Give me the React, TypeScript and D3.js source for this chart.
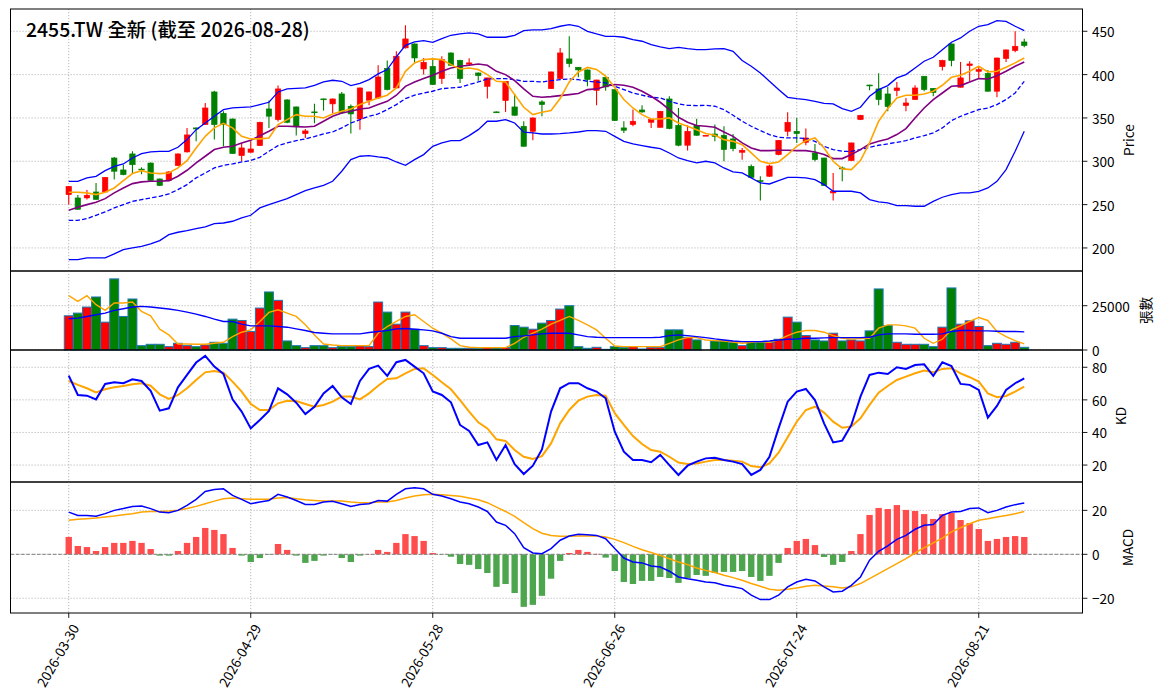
import React from "react";
import * as d3 from "d3";

// ---------- data ----------
const title = "2455.TW 全新 (截至 2026-08-28)";
const tickIndex = [0, 20, 40, 60, 80, 100];
const tickLabels = ["2026-03-30", "2026-04-29", "2026-05-28", "2026-06-26", "2026-07-24", "2026-08-21"];

const opens = [261.5,257.7,257.7,264.6,264.6,303.8,290,308.5,291,298,279.6,277.7,295,310.8,338.5,342.3,380,355.4,348.8,306.5,
310.4,318,360.4,348,370.8,362.7,331.9,357,372,366.2,377.7,363.5,348.8,370.4,373.1,407.3,384.6,430.8,435.4,406.5,
409.6,395.4,425,416.5,412,401.9,386.5,357,370,362.7,340.4,334.6,368.5,383.8,395.4,418.1,408.5,405.4,381.9,396.9,
382.7,338.5,342.3,359.2,345,339.2,371.9,341.5,318.5,341.5,330,331.5,330,325.8,310.4,294.2,277.7,282.7,307.7,334.6,
334.6,321.9,309.6,303.8,263.5,292.3,300.8,348.1,388,383.5,377.7,381.5,364.2,371.2,398.1,384.2,409.2,435.4,385.4,410.4,
403.8,401.5,380.8,418.5,427.7,437.7];
const highs = [271.5,261,267,275,282,305,296,311.5,293,298.5,280,288.5,309,338.5,339,367.3,381.5,357.7,349.3,321,
323,345.5,370,387.3,371.5,363.2,337.3,366.5,372.3,372.3,380,365.4,385,380.5,410.8,416.2,427,457,436,419.2,
417.3,421.2,425.5,417,419,402.3,396.5,357.3,392.5,378,346.2,350.5,370.4,403.5,430.8,444.2,408.8,406,394,397.2,
383,346.2,359.6,364.6,348.5,358,375,361.5,341.5,349.2,330,342.3,340.4,331.5,315.4,296.2,282.7,296,324.5,356.5,
350,337.7,320,304.2,286.5,294,321.5,353.5,388.3,401.5,385.8,391.5,373.1,387.7,398.5,384.5,417,436,414.6,415.4,
409.6,405.4,419.5,429,450,441.5];
const lows = [250,244,256,255.5,264,279,284,285.5,285,277,271.5,277,294.5,310,323,342,325,317.3,308.5,300,
310,317.5,338.5,346,344,329.6,327,344,358.5,355.8,354.6,332,336.5,364.6,372,382,384,430,413.5,400,
388,389.2,410,390.4,411,393,372.3,356,356.9,352.5,317,324.2,352,383.5,395,408.5,397,386.5,364.6,381.5,
346.5,332.7,340.4,356,338.5,339,337,317.3,312.3,329.5,330,323,300,311.5,301.9,281,254.6,282,307,328.8,
321.2,318.5,300,271.5,254.6,276.9,300.5,347.5,382,364.6,357.7,375,357.7,371,380.8,375,404.6,409.6,385,392.3,
395.4,380.5,373.8,414.6,425.8,431.5];
const closes = [271,244.5,260.8,256,281.5,288.5,284.6,296,290,277.7,272,287.7,308.5,330.4,337.3,361.5,342.3,342.3,308.8,315.4,
314.2,345,352,383.5,345,340.4,335,356,371.5,371.9,355.8,354.6,384.6,380,397.3,382.7,421.2,441.2,419.2,414.2,
388.5,417.3,410.8,395.4,413.5,398.8,396.2,356.5,392.3,353.1,317.3,350,365.4,403.1,425,412.7,405.4,394.2,393.8,385.8,
346.9,335.8,346.2,356.9,348.1,357.7,337.7,318.5,334.6,330,330,328.8,313.5,314.6,312.7,281.5,276.5,294.6,324.2,345,
331.9,326.9,301.9,271.9,265.4,291.2,321.2,353.1,387.5,371.2,363.1,384.6,367.3,384.6,382.7,379.2,416.5,416.2,396.2,412.3,
405.8,380.8,419.2,428.5,432.7,433.5];
const ma5 = [264.2,264.2,263.5,261.5,264.2,269.2,277.7,285.8,289.2,286.5,285.8,286.5,292.3,300.8,315.4,328.8,338.5,343.8,338.5,328.8,
325.8,325.8,326.9,342.3,348.1,353.8,351.9,351.9,350,354.6,357.7,360.4,365.4,369.2,373.1,376.2,384.6,403.8,413.5,417.3,
418.1,417.3,411.5,406.5,407.7,405.8,400,392.3,391.5,376.9,362.3,353.8,356.5,358.5,372.5,391.5,403,408.3,406,398.2,
385,371.2,361.5,353.8,348.8,348.8,350,344.2,340.4,336.5,332,330,325,323,319.2,309.6,300,297.3,299.2,307.7,
317.3,323.8,326.9,315.4,300,291.2,290.4,300.8,321.2,346.2,361,373.1,376.2,376.2,377.7,380.8,387.7,396.9,399.2,403.8,
409.6,403.1,403.8,408.5,413.5,419.2];
const ma10 = [243.5,246.9,250,252.7,256.9,263.5,269.2,274.2,276.2,276.9,276.9,277.7,282.7,289.6,298.1,305.8,313.5,316.2,317.3,321.2,
324.2,329.5,334.6,340.4,340.4,340,339.6,340.4,346.2,351.9,355.8,357.7,360.4,361.5,365.4,369.2,376.2,386.5,391.5,395.4,
399.2,403.8,407.7,409.6,410.8,412.3,410.8,403.8,400,393.1,383.5,375,373.8,374.6,375.8,376.9,378.1,382.7,383.5,386.5,
388.5,387.7,385.4,380.8,375,368.1,359.6,350.8,345,341.2,340.4,339.2,333.8,328.8,321.2,315.4,312.3,312.3,312.7,312.7,
312.3,312.3,310.8,307.7,303.1,303.1,307.7,313.5,320,323,325.8,330.8,337.7,350,361.5,371.2,378.8,386.5,387.3,391.5,
395.4,395,398.8,403.8,409.6,414.6];
const bbUpper = [276.9,276.9,280.8,282.7,289.2,294.2,296.9,303.8,308.8,310.8,311.5,311.5,316.2,325,336.5,344.2,351.9,359.6,361.5,362.3,
362.7,365.4,368.1,380,383.5,384.2,384.6,387.7,391.5,393.5,392.3,387.3,390,394.2,400.8,405.8,420.4,433.8,437.7,439.2,
437.3,441.5,445.4,446.9,448.1,446.9,443.1,443.1,443.1,445.4,450.8,451.5,451.5,453.1,455.8,457.7,455.8,450,446.9,444.2,
444.2,443.1,440.4,438.5,434.6,431.9,430,431.5,430,428.8,428.8,429.6,430,426.9,416.2,409.6,401.9,392.3,382.7,373.8,
372.3,371.2,369.2,366.9,366.2,360.8,357.7,362.3,375,382.7,387.3,396.2,400,407.7,415.4,420,428.8,437.3,442.3,450,
455.8,457.7,462.3,461.5,455.8,450.8];
const bbMid = [231.9,231.9,233.8,237.7,241.5,246.2,250,253.8,255.8,257.7,259.6,262.3,267.3,273.1,280.8,286.5,292.3,295.4,296.9,299.2,
300.8,304.6,311.5,318.1,321.2,323.8,325.8,328.5,331.5,333.8,338.5,344.2,348.1,351.9,354.6,359.6,365.4,372.3,376.2,378.8,
380.8,383.8,384.6,385.4,388.5,391.5,395,395.4,395.4,394.2,392.3,392.3,391.5,393.1,394.2,395,394.2,392.3,391.5,390.4,
386.5,382.7,378.8,376.2,373.8,373.1,369.2,366.2,364.6,364.2,364.6,363.5,359.6,353.1,346.2,340.4,335.4,330.8,327.7,326.9,
326.9,326.2,323,317.3,313.5,311.5,311.5,313.5,316.2,318.5,320,321.9,323.8,326.9,329.6,332.7,338.5,346.9,351.9,355.8,
359.6,361.5,365.4,371.2,378.8,392.3];
const bbLower = [186.5,186.5,188.5,188.5,188.5,193.1,198.1,200,201.9,204.6,208.5,215.4,218.1,220,222.3,224.2,228.1,228.8,230.8,234.6,
237.7,246.2,250,253.5,256.9,261.5,266.2,269.2,272.3,276.9,288.5,301.9,305.8,306.5,305,303.8,299.2,295.4,301.9,307.7,
317.3,321.2,323.8,323.8,329.6,336.5,346.2,346.2,348.1,344.2,333.5,332.7,331.5,331.5,331.9,332.7,333.8,335.4,335.4,334.6,
328.8,323,320,318.1,316.2,314.6,309.6,303.8,300.8,298.1,300,298.1,292.3,287.7,286.5,280.8,275,273.8,277.7,281.5,
281.5,280.8,278.8,273.1,265.4,265.4,265.4,263.5,255.8,253.1,251.9,248.8,248.8,248.1,248.1,253.8,258.5,261.5,263.5,263.5,
265.4,269.2,276.9,290.4,311.5,334.6];

const volumes = [19320,20830,24240,29930,15720,40150,18940,28790,2460,3220,3220,1890,3790,2460,1890,2840,4360,3790,17420,16670,
10420,23680,32770,28030,5110,2460,1330,2460,2460,1330,1890,1890,2270,1890,27080,21400,14580,21400,11740,2460,
1330,1330,950,950,950,950,1330,1140,1330,13830,12880,11740,15150,16670,23110,25000,1890,950,1520,380,
1890,1330,1890,570,1520,1520,11360,11360,7200,5680,0,5110,5110,4360,2460,4360,4360,4360,6060,18560,
15720,8140,5680,5110,9470,5110,5680,5110,10800,34470,13830,4360,3220,3220,3220,1890,12880,35040,14580,16480,
13260,2460,3790,3220,4360,1520];
const volMa5 = [30680,27460,30680,25570,22350,26520,26520,27080,21780,19320,11740,8520,3410,3410,3220,3220,3790,4360,7580,10040,
11360,16100,21210,22730,20830,18940,14200,8520,3410,2840,2460,2460,2460,2460,9470,13260,16100,18940,19890,16100,
12310,9470,6250,2460,1520,1330,1330,1330,1330,3790,7200,9470,11800,14580,16670,18940,16670,14200,11360,6630,
2270,1890,1890,1890,1890,1890,3790,5680,7010,7010,5680,5300,5110,4550,3790,4360,4740,4360,5680,8140,
10040,10990,10990,10040,8140,6630,6250,6440,6630,12310,14200,14200,13640,12310,6630,3790,6060,11360,13640,16100,
18370,16670,10420,7580,5300,3410];
const volMa20 = [17610,17990,18940,19890,20830,22350,23300,24240,24620,24240,23680,23110,22350,21400,20270,18940,17420,16100,16100,14580,
13640,13640,13640,13260,12880,11930,10990,9850,9470,9090,9090,9090,9090,9850,10420,10990,11930,12120,11740,11360,
10800,9470,7580,6630,6630,6630,6630,6630,6630,7580,7950,8520,9090,9470,9470,9470,8520,7580,7200,7010,
7010,7010,7010,7010,7010,7200,8140,8520,8140,7580,7010,6250,5680,5110,4740,4740,4740,5110,5680,6060,
6250,6630,6630,6820,7010,7010,7010,7010,7200,8520,9090,9090,9090,8900,8900,8900,9090,10420,10990,10990,
10800,10800,10610,10420,10420,10230];

const kValues = [74.9,63.0,62.6,60.3,69.8,70.8,70.2,72.6,71.6,65.5,53.4,54.8,67.7,75.3,82.9,87.0,80.4,75.9,60.3,52.8,
42.5,47.7,53.2,67.1,63.4,58.3,51.3,55.8,64.0,68.5,61.6,57.5,71.6,79.0,81.0,74.7,83.1,84.5,80.4,76.3,
65.1,63.0,58.5,44.6,40.9,32.3,33.9,23.1,32.3,20.6,14.5,19.6,29.6,52.8,67.1,70.2,70.2,67.1,65.1,61.0,
40.5,28.2,23.1,23.1,21.7,26.2,20.0,13.9,19.6,22.1,24.1,24.5,23.1,22.1,20.6,13.9,17.0,25.1,42.5,58.9,
65.1,66.7,59.9,45.6,33.9,35.0,44.6,62.0,75.3,76.7,75.9,80.0,79.0,81.4,81.8,74.7,83.1,80.8,69.8,69.2,
66.1,49.1,56.3,66.1,70.2,73.2];
const dValues = [71.6,69.2,67.1,64.6,66.5,67.7,68.5,69.6,70.2,68.7,63.4,60.6,63.0,67.1,72.2,76.9,77.7,76.7,71.2,65.1,
57.5,53.8,53.8,57.9,59.5,59.3,57.5,55.8,56.9,58.9,62.0,62.0,60.3,64.0,68.7,72.8,73.2,76.3,79.0,79.4,
75.3,70.8,66.5,59.9,52.8,46.2,42.5,35.8,34.8,29.2,25.1,23.7,25.5,33.3,45.6,53.8,59.5,62.0,63.0,62.6,
51.8,44.6,37.8,32.9,29.2,28.2,25.1,21.5,20.6,21.0,22.1,23.1,23.1,22.7,22.1,19.4,18.6,21.0,27.6,37.0,
46.6,53.8,55.8,52.2,46.6,42.9,43.6,48.7,56.9,64.4,68.5,72.2,74.3,76.3,78.0,76.9,79.0,79.4,76.3,73.9,
71.2,64.0,61.6,62.4,65.1,68.1];

const difValues = [19.2,17.7,17.7,17.3,18.5,20.0,20.8,21.8,22.0,20.8,19.2,18.9,20.0,22.3,25.0,28.6,29.5,29.8,26.8,25.0,
23.0,23.8,24.5,27.3,26.1,24.5,22.7,22.7,23.8,24.1,23.0,21.8,22.7,23.0,24.5,24.2,27.3,29.8,30.3,29.8,
27.3,26.5,25.3,23.8,23.0,21.5,19.5,14.7,13.2,9.4,3.0,0.6,0.3,2.6,6.4,8.3,9.1,8.9,8.6,7.1,
2.6,-1.7,-3.5,-3.9,-5.3,-5.8,-7.7,-10.3,-11.1,-11.8,-12.6,-12.9,-14.1,-14.8,-15.6,-18.6,-20.6,-20.6,-18.6,-14.8,
-12.6,-11.4,-12.1,-14.8,-17.1,-16.8,-14.1,-10.3,-2.7,1.4,3.8,6.8,8.6,11.4,13.2,13.6,17.7,19.2,19.5,20.8,
21.1,18.9,20.0,21.5,22.6,23.3];
const deaValues = [15.5,15.9,16.2,16.5,17.0,17.4,18.0,18.5,19.2,19.5,19.5,19.7,20.0,20.8,21.8,23.0,24.2,25.3,25.6,25.3,
25.0,25.0,25.0,25.6,25.8,25.3,24.8,24.5,24.2,24.2,24.2,23.8,23.5,23.5,23.8,23.8,24.5,25.6,26.5,27.1,
27.3,27.1,26.8,26.4,25.6,24.8,23.5,21.5,19.5,17.3,14.4,11.7,9.6,8.6,8.2,8.2,8.3,8.3,8.3,7.9,
6.8,5.3,3.6,2.1,0.8,-0.5,-2.0,-3.5,-4.7,-6.2,-7.3,-8.3,-9.5,-10.6,-11.8,-13.3,-14.5,-15.9,-16.4,-15.9,
-15.3,-14.5,-14.1,-14.4,-14.8,-15.3,-14.8,-13.3,-11.1,-8.8,-6.5,-4.2,-2.0,0.6,3.0,5.2,7.4,10.2,12.1,13.9,
15.5,16.2,17.0,17.7,18.5,19.5];
const oscValues = [7.9,3.8,3.3,1.5,3.3,5.2,5.2,6.1,5.2,2.4,-0.6,-0.6,1.5,5.2,7.9,12.0,11.1,9.2,2.9,-0.6,
-3.5,-1.7,-0.2,4.7,2.0,-0.6,-3.9,-3.0,-0.6,-0.1,-1.7,-3.5,-0.6,0.1,2.0,1.1,5.2,9.2,8.3,6.1,
0.6,-0.1,-1.1,-4.4,-4.8,-6.7,-8.5,-14.8,-13.5,-17.6,-23.9,-23.0,-18.9,-11.1,-3.0,0.6,2.0,1.1,0.2,-1.5,
-7.6,-12.6,-13.5,-12.1,-12.1,-10.3,-10.8,-13.0,-10.8,-9.4,-9.8,-8.5,-8.0,-8.0,-7.6,-10.3,-12.1,-9.8,-3.9,2.9,
6.1,7.0,4.2,-1.2,-4.8,-3.5,1.5,9.2,17.9,21.1,20.6,22.4,20.2,19.7,18.3,16.1,18.3,18.8,15.6,14.2,
11.5,6.1,7.0,7.9,8.3,7.9];

const priceTicks = [200, 250, 300, 350, 400, 450];
const volTicks = [0, 25000];
const kdTicks = [20, 40, 60, 80];
const macdTicks = [-20, 0, 20];

// ---------- layout ----------
const W = 1164, H = 698;
const L = 10.5, R = 1082.5;
const PR = { top: 9, bottom: 271 };
const VO = { top: 271, bottom: 350 };
const KD = { top: 350, bottom: 482 };
const MA = { top: 482, bottom: 613 };
const FONT = "'Noto Sans CJK TC', 'Noto Sans CJK SC', 'Noto Sans', sans-serif";
const UP = "#ff0000", DOWN = "#008000";
const TICK_FS = 13.6;

const x = d3.scaleLinear().domain([-6.4, 111.4]).range([L, R]);
const yP = d3.scaleLinear().domain([173.4, 475.7]).range([PR.bottom, PR.top]);
const yV = d3.scaleLinear().domain([0, 44600]).range([VO.bottom, VO.top]);
const yK = d3.scaleLinear().domain([9.6, 90.6]).range([KD.bottom, KD.top]);
const yM = d3.scaleLinear().domain([-26.7, 32.9]).range([MA.bottom, MA.top]);
const step = x(1) - x(0);

const mkLine = (ys: d3.ScaleLinear<number, number>) =>
  d3.line<number>().x((_, i) => x(i)).y((d) => ys(d));

const fmt = (v: number) => (v < 0 ? "\u2212" + Math.abs(v) : String(v));

function Grid({ ys, ticks, top, bottom }: any) {
  return (
    <g stroke="#b0b0b0" strokeWidth={0.9} strokeDasharray="1.2,1.8">
      {ticks.map((t: number) => (
        <line key={"h" + t} x1={L} x2={R} y1={ys(t)} y2={ys(t)} />
      ))}
      {tickIndex.map((t) => (
        <line key={"v" + t} x1={x(t)} x2={x(t)} y1={top} y2={bottom} />
      ))}
    </g>
  );
}

function YAxis({ ys, ticks, label, labelX, top, bottom }: any) {
  return (
    <g fontFamily={FONT} fontSize={TICK_FS} fill="#000">
      {ticks.map((t: number) => (
        <g key={t}>
          <line x1={R} x2={R + 4.9} y1={ys(t)} y2={ys(t)} stroke="#000" strokeWidth={0.9} />
          <text x={R + 9.5} y={ys(t)} dominantBaseline="central">{fmt(t)}</text>
        </g>
      ))}
      <text
        x={labelX}
        y={(top + bottom) / 2}
        textAnchor="middle"
        dominantBaseline="central"
        transform={`rotate(-90, ${labelX}, ${(top + bottom) / 2})`}
      >
        {label}
      </text>
    </g>
  );
}

function Frame({ top, bottom }: any) {
  return <rect x={L} y={top} width={R - L} height={bottom - top} fill="none" stroke="#000" strokeWidth={1} />;
}

export default function App() {
  const idx = d3.range(closes.length);
  const bodyW = step * 0.6;
  const volW = step * 0.98;
  const oscW = step * 0.7;
  return (
    <svg width={W} height={H} style={{ position: "absolute", left: 0, top: 0, background: "#fff" }}>
      <rect x={0} y={0} width={W} height={H} fill="#fff" />

      {/* ---------- price panel ---------- */}
      <Grid ys={yP} ticks={priceTicks} top={PR.top} bottom={PR.bottom} />
      <g>
        {idx.map((i) => {
          const o = opens[i], c = closes[i];
          const col = c >= o ? UP : DOWN;
          const yTop = yP(Math.max(o, c));
          const hgt = Math.max(0.9, Math.abs(yP(o) - yP(c)));
          return (
            <g key={i}>
              <line x1={x(i)} x2={x(i)} y1={yP(highs[i])} y2={yP(lows[i])} stroke={col} strokeWidth={1.1} />
              <rect x={x(i) - bodyW / 2} y={yTop} width={bodyW} height={hgt} fill={col} stroke={col} strokeWidth={0.6} />
            </g>
          );
        })}
      </g>
      <path d={mkLine(yP)(bbUpper) || ""} fill="none" stroke="#0000ff" strokeWidth={1.3} />
      <path d={mkLine(yP)(bbLower) || ""} fill="none" stroke="#0000ff" strokeWidth={1.3} />
      <path d={mkLine(yP)(bbMid) || ""} fill="none" stroke="#0000ff" strokeWidth={1.3} strokeDasharray="4.5,2.2" />
      <path d={mkLine(yP)(ma10) || ""} fill="none" stroke="#800080" strokeWidth={1.6} />
      <path d={mkLine(yP)(ma5) || ""} fill="none" stroke="#ffa500" strokeWidth={1.6} />
      <text x={26} y={36.5} fontFamily={FONT} fontSize={19.4} fontWeight={500} fill="#000">{title}</text>
      <Frame top={PR.top} bottom={PR.bottom} />
      <YAxis ys={yP} ticks={priceTicks} label="Price" labelX={1128} top={PR.top} bottom={PR.bottom} />

      {/* ---------- volume panel ---------- */}
      <Grid ys={yV} ticks={volTicks} top={VO.top} bottom={VO.bottom} />
      <g>
        {idx.map((i) => {
          const col = closes[i] >= opens[i] ? UP : DOWN;
          const v = volumes[i];
          if (v <= 0) return null;
          return (
            <rect key={i} x={x(i) - volW / 2} y={yV(v)} width={volW} height={yV(0) - yV(v)}
              fill={col} stroke="#1f77b4" strokeWidth={1} />
          );
        })}
      </g>
      <path d={mkLine(yV)(volMa5) || ""} fill="none" stroke="#ffa500" strokeWidth={1.4} />
      <path d={mkLine(yV)(volMa20) || ""} fill="none" stroke="#0000ff" strokeWidth={1.4} />
      <Frame top={VO.top} bottom={VO.bottom} />
      <YAxis ys={yV} ticks={volTicks} label="張數" labelX={1145} top={VO.top} bottom={VO.bottom} />

      {/* ---------- KD panel ---------- */}
      <Grid ys={yK} ticks={kdTicks} top={KD.top} bottom={KD.bottom} />
      <path d={mkLine(yK)(dValues) || ""} fill="none" stroke="#ffa500" strokeWidth={2} />
      <path d={mkLine(yK)(kValues) || ""} fill="none" stroke="#0000ff" strokeWidth={2} />
      <Frame top={KD.top} bottom={KD.bottom} />
      <YAxis ys={yK} ticks={kdTicks} label="KD" labelX={1120} top={KD.top} bottom={KD.bottom} />

      {/* ---------- MACD panel ---------- */}
      <Grid ys={yM} ticks={macdTicks} top={MA.top} bottom={MA.bottom} />
      <g>
        {idx.map((i) => {
          const v = oscValues[i];
          const col = v >= 0 ? "#ff4d4d" : "#4da64d";
          const y0 = yM(0), y1 = yM(v);
          return (
            <rect key={i} x={x(i) - oscW / 2} y={Math.min(y0, y1)} width={oscW}
              height={Math.max(0.3, Math.abs(y1 - y0))} fill={col} />
          );
        })}
      </g>
      <line x1={L} x2={R} y1={yM(0)} y2={yM(0)} stroke="#808080" strokeWidth={1} strokeDasharray="3.5,1.8" />
      <path d={mkLine(yM)(deaValues) || ""} fill="none" stroke="#ffa500" strokeWidth={1.5} />
      <path d={mkLine(yM)(difValues) || ""} fill="none" stroke="#0000ff" strokeWidth={1.5} />
      <Frame top={MA.top} bottom={MA.bottom} />
      <YAxis ys={yM} ticks={macdTicks} label="MACD" labelX={1127} top={MA.top} bottom={MA.bottom} />

      {/* ---------- x axis ---------- */}
      <g fontFamily={FONT} fontSize={TICK_FS} fill="#000">
        {tickIndex.map((t, k) => {
          const tx = x(t), ty = MA.bottom + 8.5;
          return (
            <g key={t}>
              <line x1={tx} x2={tx} y1={MA.bottom} y2={MA.bottom + 4.9} stroke="#000" strokeWidth={0.9} />
              <text x={tx} y={ty} textAnchor="end" dominantBaseline="hanging"
                transform={`rotate(-60, ${tx}, ${ty})`}>
                {tickLabels[k]}
              </text>
            </g>
          );
        })}
      </g>
    </svg>
  );
}
